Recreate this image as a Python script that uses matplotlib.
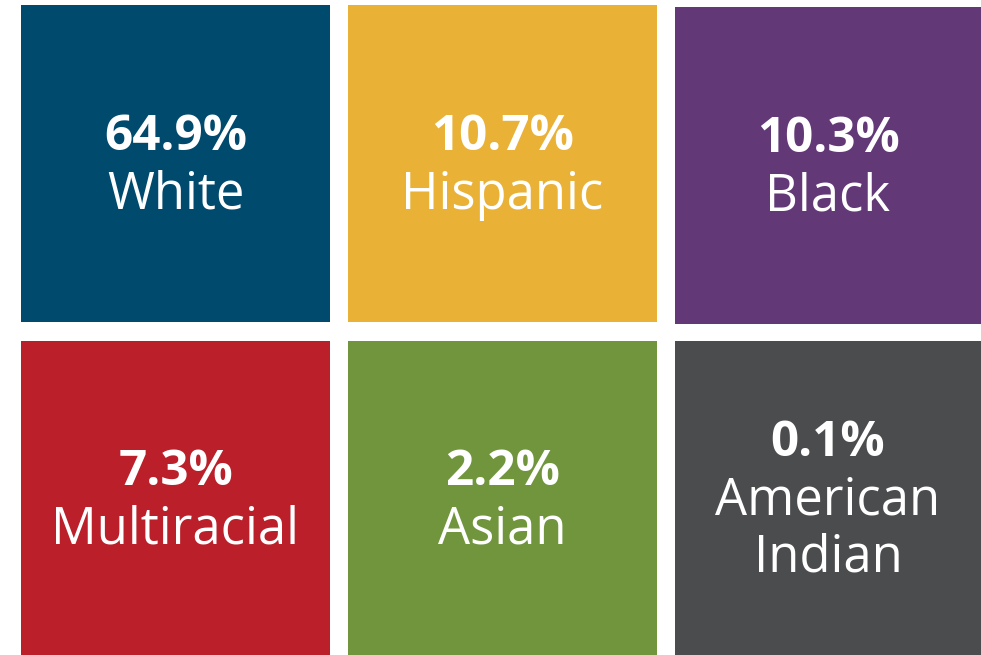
import matplotlib
matplotlib.use("Agg")
import matplotlib.pyplot as plt
from matplotlib.patches import Rectangle

values = ["64.9%", "10.7%", "10.3%", "7.3%", "2.2%", "0.1%"]
labels = ["White", "Hispanic", "Black", "Multiracial", "Asian", "American\nIndian"]
colors = ["#004A6E", "#E9B236", "#623877", "#BA1F2A", "#71953D", "#4B4C4E"]

W, H = 981, 655
fig = plt.figure(figsize=(W / 100, H / 100), dpi=100)
ax = fig.add_axes([0, 0, 1, 1])
ax.set_xlim(0, W)
ax.set_ylim(H, 0)
ax.axis("off")

# layout: (x0, x1, y0, y1) per tile
col_x = [(21, 330), (348, 657), (675, 981)]
row_y = [[(5, 322), (5, 322), (7, 324)], [(341, 655), (341, 655), (341, 655)]]

fam = ["Open Sans", "DejaVu Sans"]
line = 57.5
for i, (v, lab, c) in enumerate(zip(values, labels, colors)):
    r, k = divmod(i, 3)
    x0, x1 = col_x[k]
    y0, y1 = row_y[r][k]
    ax.add_patch(Rectangle((x0, y0), x1 - x0, y1 - y0, color=c, lw=0))
    cx = (x0 + x1) / 2
    cy = (y0 + y1) / 2
    lines = lab.split("\n")
    n = 1 + len(lines)
    top = cy - (n - 1) * line / 2 + 3
    ax.text(cx, top, v, ha="center", va="center", color="white",
            fontsize=35.5, fontweight="bold", family=fam)
    for j, t in enumerate(lines):
        ax.text(cx, top + (j + 1) * line, t, ha="center", va="center",
                color="white", fontsize=36.5, family=fam)

fig.savefig("out.png", dpi=100)
